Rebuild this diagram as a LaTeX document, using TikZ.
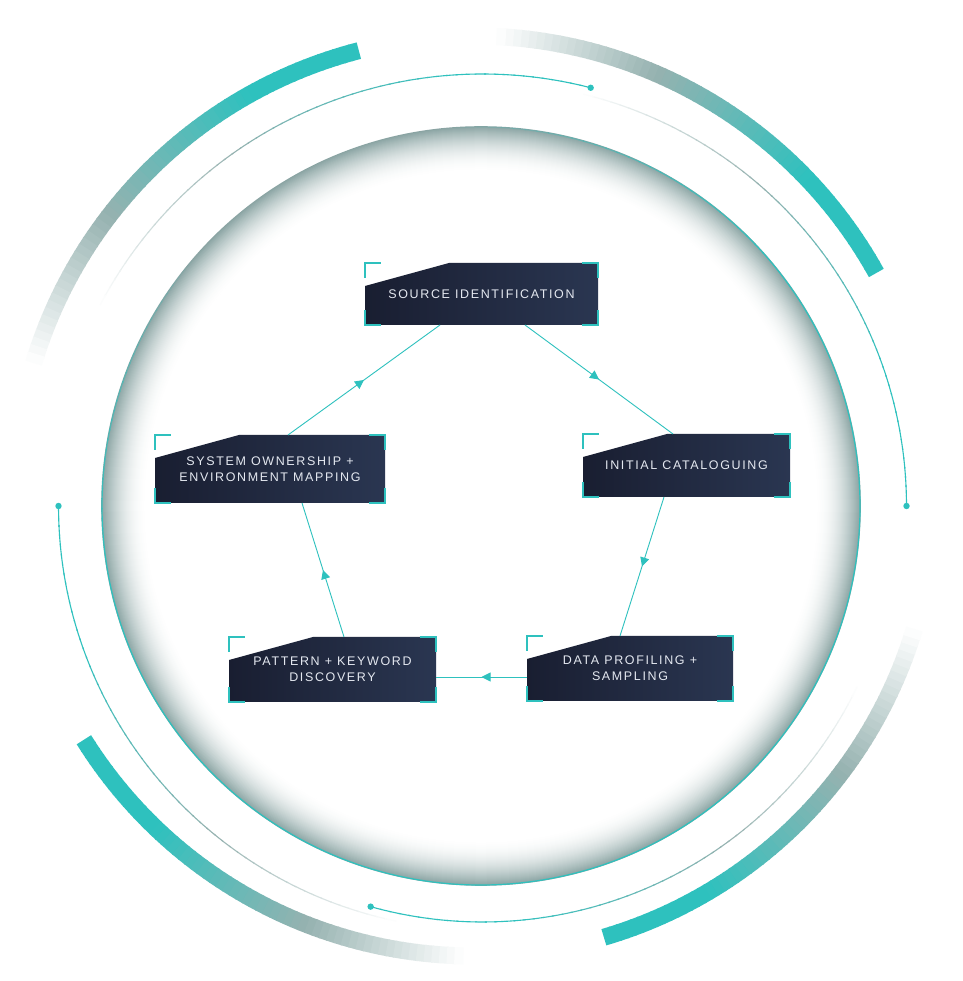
\documentclass[tikz,border=0pt]{standalone}
\usepackage{fontspec}
\usepackage{tikz}
\usetikzlibrary{arrows.meta,backgrounds,decorations.markings}

\newfontfamily\stepfont[LetterSpace=13]{Liberation Sans}

\definecolor{ringteal}{RGB}{46,193,190}
\definecolor{ringgrey}{RGB}{150,178,176}
\definecolor{ringfade}{RGB}{255,255,255}
\definecolor{haloedge}{RGB}{138,164,163}
\definecolor{boxnavyA}{RGB}{25,30,49}
\definecolor{boxnavyB}{RGB}{42,54,81}
\definecolor{boxtext}{RGB}{228,232,240}

% arc that runs from a teal end to a faded end
\newcommand{\fadearc}[5]{%
  \foreach \k in {1,...,60}{
    \pgfmathsetmacro{\fpos}{(\k-0.5)/60}
    \pgfmathsetmacro{\fstart}{#3+(#4-#3)*(\k-1)/60}
    \pgfmathsetmacro{\fend}{#3+(#4-#3)*(\k+0.2)/60}
    \pgfmathsetmacro{\fmixa}{max(0,min(100,100*(0.65-\fpos)/0.4))}
    \pgfmathsetmacro{\fmixb}{max(0,min(100,100*(1-\fpos)/0.35))}
    \draw[line width=#5, draw={ringteal!\fmixa!ringgrey!\fmixb!ringfade}]
      (#1) ++(\fstart:#2) arc[start angle=\fstart, end angle=\fend, radius=#2];
  }}

\begin{document}
\begin{tikzpicture}[x=1pt, y=1pt,
    step_box/.style={inner sep=0pt, outer sep=0pt, align=center, text=boxtext,
      font=\stepfont\fontsize{12.5}{16}\selectfont},
    box_fill/.style={left color=boxnavyA, right color=boxnavyB},
    corner_mark/.style={draw=ringteal, line width=1.5},
    flow_arrow/.style={draw=ringteal, line width=0.9, postaction={decorate},
      decoration={markings, mark=at position 0.5 with {\arrow{Triangle[length=9pt, width=9pt]}}}}
  ]
  \useasboundingbox (0,0) rectangle (962,981);

  % --- Centres ---
  \coordinate (main_c) at (481,475);
  \coordinate (thin_c) at (482.5,475);
  \coordinate (thick_c) at (474,485);

  \begin{scope}[on background layer]
    \fill[white] (0,0) rectangle (962,981);

    % --- Inner halo of the big circle ---
    \foreach \i [evaluate=\i as \hp using {100*(1-\i/46)^2}] in {0,...,45}
      \draw[line width=1.6, draw=haloedge!\hp!white] (main_c) circle[radius=379-\i];
    \draw[line width=1.2, ringteal] (main_c) ++(-175:379) arc[start angle=-175, end angle=40, radius=379];
    \foreach \k [evaluate=\k as \oa using {40+\k*1.8}, evaluate=\k as \ob using {185-\k*1.5},
        evaluate=\k as \op using {1-\k/30}] in {0,...,29}{
      \draw[line width=1.2, ringteal, draw opacity=\op] (main_c) ++(\oa:379) arc[start angle=\oa, end angle=\oa+2, radius=379];
      \draw[line width=1.2, ringteal, draw opacity=\op] (main_c) ++(\ob:379) arc[start angle=\ob, end angle=\ob-1.7, radius=379];
    }

    % --- Thin arcs ---
    \fadearc{thin_c}{432}{75.5}{152}{1.1}
    \fadearc{thin_c}{424}{0}{76}{1.1}
    \fadearc{thin_c}{416}{254.4}{334}{1.1}
    \fadearc{thin_c}{424}{180}{258}{1.1}
    \fill[ringteal] (thin_c) ++(75.5:432) circle[radius=3.2];
    \fill[ringteal] (thin_c) ++(0:424) circle[radius=3.2];
    \fill[ringteal] (thin_c) ++(254.4:416) circle[radius=3.2];
    \fill[ringteal] (thin_c) ++(180:424) circle[radius=3.2];

    % --- Thick arcs ---
    \fadearc{thick_c}{460}{104.5}{163}{17}
    \fadearc{thick_c}{460}{29}{87}{17}
    \fadearc{thick_c}{460}{286.4}{343}{17}
    \fadearc{thick_c}{460}{212}{268.5}{17}
  \end{scope}

  % --- Steps ---
  \node[step_box, minimum width=233pt, minimum height=62pt] (src) at (481.5,687) {SOURCE IDENTIFICATION};
  \node[step_box, minimum width=207pt, minimum height=63pt] (cat) at (686.5,515.5) {INITIAL CATALOGUING};
  \node[step_box, minimum width=206pt, minimum height=65pt] (prof) at (630,312.5) {DATA PROFILING +\\SAMPLING};
  \node[step_box, minimum width=207pt, minimum height=65pt] (pat) at (332.5,311.5) {PATTERN + KEYWORD\\DISCOVERY};
  \node[step_box, minimum width=230pt, minimum height=68pt] (sys) at (270,512) {SYSTEM OWNERSHIP +\\ENVIRONMENT MAPPING};

  % --- Box bodies (cut top-left corner) ---
  \begin{scope}[on background layer]
    \foreach \n in {src,cat,prof,pat,sys}
      \shade[box_fill] ([yshift=-23pt]\n.north west) -- ([xshift=84pt]\n.north west)
        -- (\n.north east) -- (\n.south east) -- (\n.south west) -- cycle;
  \end{scope}

  % --- Corner marks ---
  \foreach \n in {src,cat,prof,pat,sys}{
    \draw[corner_mark] ([yshift=-15pt]\n.north west) -- (\n.north west) -- ([xshift=16pt]\n.north west);
    \draw[corner_mark] ([xshift=-16pt]\n.north east) -- (\n.north east) -- ([yshift=-15pt]\n.north east);
    \draw[corner_mark] ([yshift=15pt]\n.south west) -- (\n.south west) -- ([xshift=16pt]\n.south west);
    \draw[corner_mark] ([xshift=-16pt]\n.south east) -- (\n.south east) -- ([yshift=15pt]\n.south east);
  }

  % --- Flow ---
  \draw[flow_arrow] ([xshift=43.5pt]src.south) -- ([xshift=-13.5pt]cat.north);
  \draw[flow_arrow] ([xshift=-22.5pt]cat.south) -- ([xshift=-10pt]prof.north);
  \draw[flow_arrow] ([yshift=-8.5pt]prof.west) -- ([yshift=-7.5pt]pat.east);
  \draw[flow_arrow] ([xshift=11.5pt]pat.north) -- ([xshift=32pt]sys.south);
  \draw[flow_arrow] ([xshift=18pt]sys.north) -- ([xshift=-41.5pt]src.south);
\end{tikzpicture}
\end{document}
